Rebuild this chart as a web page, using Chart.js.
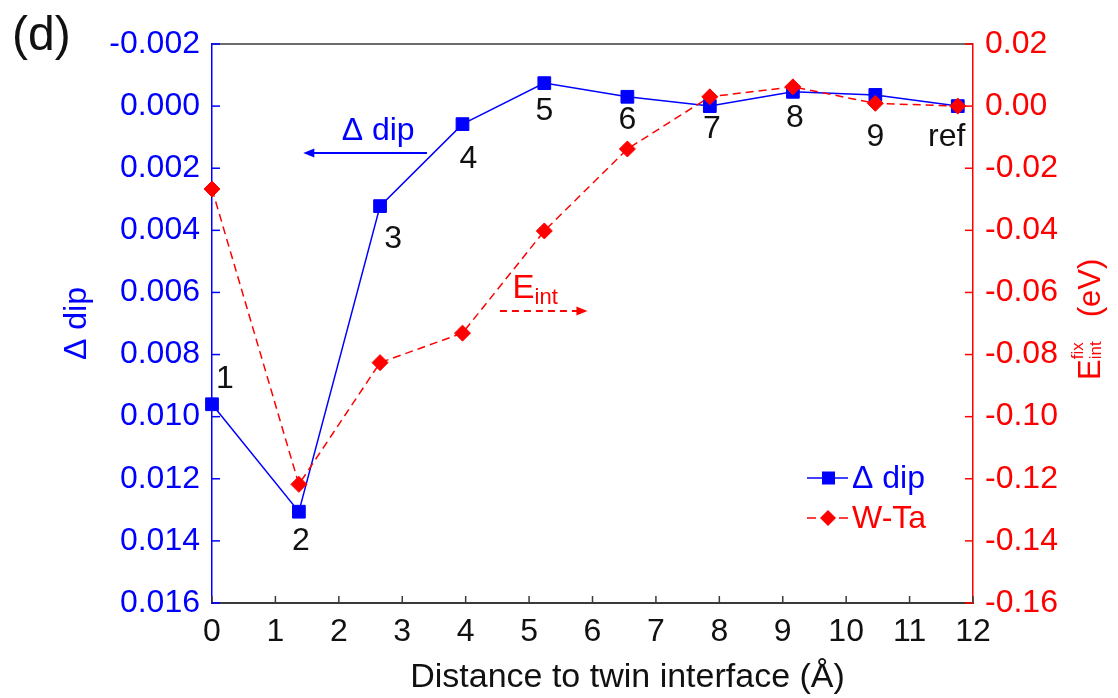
<!DOCTYPE html>
<html><head><meta charset="utf-8">
<script src="https://cdn.jsdelivr.net/npm/chart.js@4.4.0/dist/chart.umd.min.js"></script>
<style>html,body{margin:0;padding:0;background:#fff;}#wrap{width:1118px;height:698px;}</style>
</head><body><div id="wrap"><canvas id="c" width="1118" height="698"></canvas></div>
<script>
// ---- data ----
const distance = [0, 1.37, 2.65, 3.95, 5.24, 6.55, 7.85, 9.16, 10.46, 11.76];
const deltaDip = [0.0096, 0.01306, 0.00322, 0.00058, -0.00074, -0.0003, 0.0, -0.00046, -0.00036, 0.0];
const eIntWTa = [-0.0267, -0.1218, -0.0826, -0.0731, -0.0402, -0.0138, 0.003, 0.0062, 0.0009, 0.0];
const siteLabels = ['1', '2', '3', '4', '5', '6', '7', '8', '9', 'ref'];
const xTickValues = [0, 1, 2, 3, 4, 5, 6, 7, 8, 9, 10, 11, 12];
const leftTickValues = [-0.002, 0, 0.002, 0.004, 0.006, 0.008, 0.010, 0.012, 0.014, 0.016];
const rightTickValues = [0.02, 0, -0.02, -0.04, -0.06, -0.08, -0.10, -0.12, -0.14, -0.16];
const seriesNames = ['\u0394 dip', 'W-Ta'];

// label offsets (px) from each blue point
const labelOffsets = [[13,-25],[2,29],[13,33],[6,35],[0,28],[0,23],[2,23],[2,26],[0,42],[-11,31]];

const BLUE = '#0000ff', RED = '#ff0000', AXIS = '#3a3a3a';
const FONT = 'Arial, "Liberation Sans", Helvetica, sans-serif';

function drawArrow(ctx, x1, y1, x2, y2, color, dash) {
  ctx.save();
  ctx.strokeStyle = color; ctx.fillStyle = color; ctx.lineWidth = 2;
  ctx.setLineDash(dash || []);
  const dir = Math.sign(x2 - x1);
  ctx.beginPath(); ctx.moveTo(x1, y1); ctx.lineTo(x2 - dir * 8, y2); ctx.stroke();
  ctx.setLineDash([]);
  ctx.beginPath(); ctx.moveTo(x2, y2); ctx.lineTo(x2 - dir * 11, y2 - 4.5); ctx.lineTo(x2 - dir * 11, y2 + 4.5); ctx.closePath(); ctx.fill();
  ctx.restore();
}

const decor = {
  id: 'decor',
  afterDraw(chart) {
    const {ctx, chartArea: a, scales} = chart;
    const xs = scales.x, yl = scales.y, yr = scales.y1;
    ctx.save();
    // top frame
    ctx.strokeStyle = AXIS; ctx.lineWidth = 1.5;
    ctx.beginPath(); ctx.moveTo(a.left, a.top); ctx.lineTo(a.right, a.top); ctx.stroke();
    // inward ticks
    ctx.lineWidth = 1.5;
    ctx.strokeStyle = AXIS;
    xs.ticks.forEach(t => { const p = xs.getPixelForValue(t.value); ctx.beginPath(); ctx.moveTo(p, a.bottom); ctx.lineTo(p, a.bottom - 7); ctx.stroke(); });
    ctx.strokeStyle = BLUE;
    yl.ticks.forEach(t => { const p = yl.getPixelForValue(t.value); ctx.beginPath(); ctx.moveTo(a.left, p); ctx.lineTo(a.left + 8, p); ctx.stroke(); });
    ctx.strokeStyle = RED;
    yr.ticks.forEach(t => { const p = yr.getPixelForValue(t.value); ctx.beginPath(); ctx.moveTo(a.right, p); ctx.lineTo(a.right - 8, p); ctx.stroke(); });

    // site labels
    ctx.fillStyle = '#111'; ctx.font = `32px ${FONT}`; ctx.textAlign = 'center'; ctx.textBaseline = 'middle';
    siteLabels.forEach((s, i) => {
      const px = xs.getPixelForValue(distance[i]) + labelOffsets[i][0];
      const py = yl.getPixelForValue(deltaDip[i]) + labelOffsets[i][1];
      ctx.fillText(s, px, py);
    });

    // annotation: Delta dip arrow (left axis)
    const ay = yl.getPixelForValue(0.00151);
    drawArrow(ctx, xs.getPixelForValue(3.39), ay, xs.getPixelForValue(1.44), ay, BLUE, []);
    ctx.fillStyle = BLUE; ctx.font = `32px ${FONT}`; ctx.textAlign = 'center'; ctx.textBaseline = 'middle';
    ctx.fillText(seriesNames[0], xs.getPixelForValue(2.62), yl.getPixelForValue(0.0008));

    // annotation: E_int arrow (right axis)
    const ey = yr.getPixelForValue(-0.066);
    drawArrow(ctx, xs.getPixelForValue(4.54), ey, xs.getPixelForValue(5.92), ey, RED, [7, 5]);
    ctx.fillStyle = RED; ctx.textAlign = 'left'; ctx.textBaseline = 'alphabetic';
    const ex = xs.getPixelForValue(4.74), eb = yr.getPixelForValue(-0.0618);
    ctx.font = `33px ${FONT}`; ctx.fillText('E', ex, eb);
    const wE = ctx.measureText('E').width;
    ctx.font = `22px ${FONT}`; ctx.fillText('int', ex + wE, eb + 6);

    // right axis title (rotated, reading upward)
    ctx.save();
    ctx.translate(a.right + 127, a.top + 336);
    ctx.rotate(-Math.PI / 2);
    ctx.fillStyle = RED; ctx.textAlign = 'left'; ctx.textBaseline = 'alphabetic';
    ctx.font = `31px ${FONT}`; ctx.fillText('E', 0, 0);
    const wE2 = ctx.measureText('E').width;
    ctx.font = `17px ${FONT}`;
    ctx.fillText('int', wE2, 1);
    ctx.fillText('fix', wE2, -17);
    ctx.font = `31px ${FONT}`; ctx.fillText('(eV)', wE2 + 42, 0);
    ctx.restore();

    // x axis title
    ctx.fillStyle = '#111'; ctx.font = `34px ${FONT}`; ctx.textAlign = 'center'; ctx.textBaseline = 'alphabetic';
    ctx.fillText('Distance to twin interface (\u00C5)', (a.left + a.right) / 2 + 35, 687);

    // panel label
    ctx.font = `48px ${FONT}`; ctx.textAlign = 'left';
    ctx.fillText('(d)', 12, 50);

    // legend
    const ds = chart.data.datasets;
    const lx = a.right - 166;
    [[0, a.top + 434], [1, a.top + 474]].forEach(([i, y]) => {
      const d = ds[i];
      ctx.save();
      ctx.strokeStyle = d.borderColor; ctx.lineWidth = 1.5;
      if (i === 1) {
        ctx.beginPath(); ctx.moveTo(lx, y); ctx.lineTo(lx + 9, y); ctx.moveTo(lx + 32, y); ctx.lineTo(lx + 41, y); ctx.stroke();
      } else {
        ctx.beginPath(); ctx.moveTo(lx, y); ctx.lineTo(lx + 41, y); ctx.stroke();
      }
      ctx.fillStyle = d.pointBackgroundColor;
      if (i === 0) { ctx.fillRect(lx + 15, y - 6.5, 13, 13); }
      else { ctx.beginPath(); ctx.moveTo(lx + 21, y - 8); ctx.lineTo(lx + 29, y); ctx.lineTo(lx + 21, y + 8); ctx.lineTo(lx + 13, y); ctx.closePath(); ctx.fill(); }
      ctx.fillStyle = d.borderColor; ctx.font = `32px ${FONT}`; ctx.textAlign = 'left'; ctx.textBaseline = 'middle';
      ctx.fillText(d.label, lx + 45, y + 1);
      ctx.restore();
    });
    ctx.restore();
  }
};

const fmt = (v, n) => (Math.abs(v) < 1e-12 ? 0 : v).toFixed(n);

new Chart(document.getElementById('c'), {
  type: 'line',
  data: {
    datasets: [
      {
        label: seriesNames[0],
        data: distance.map((x, i) => ({x, y: deltaDip[i]})),
        yAxisID: 'y', order: 2,
        borderColor: BLUE, backgroundColor: BLUE, borderWidth: 1.5,
        pointStyle: 'rect', pointRadius: 9, pointBackgroundColor: BLUE, pointBorderColor: BLUE, pointBorderWidth: 1,
        tension: 0, clip: false
      },
      {
        label: seriesNames[1],
        data: distance.map((x, i) => ({x, y: eIntWTa[i]})),
        yAxisID: 'y1', order: 1,
        borderColor: RED, backgroundColor: RED, borderWidth: 1.5, borderDash: [8, 5],
        pointStyle: 'rectRot', pointRadius: 8, pointBackgroundColor: RED, pointBorderColor: RED, pointBorderWidth: 1,
        tension: 0, clip: false
      }
    ]
  },
  options: {
    responsive: false, animation: false, devicePixelRatio: 1,
    layout: {padding: {top: 44, left: 0, right: 0, bottom: 0}},
    plugins: {legend: {display: false}, tooltip: {enabled: false}},
    scales: {
      x: {
        type: 'linear', min: 0, max: 12,
        afterBuildTicks: s => { s.ticks = xTickValues.map(v => ({value: v})); },
        afterFit: s => { s.height = 95; },
        grid: {display: false, drawTicks: false},
        border: {display: true, color: AXIS, width: 2},
        ticks: {color: '#111', font: {family: FONT, size: 32}, padding: 10, maxRotation: 0, callback: v => String(v)}
      },
      y: {
        position: 'left', reverse: true, min: -0.002, max: 0.016,
        afterBuildTicks: s => { s.ticks = leftTickValues.map(v => ({value: v})); },
        afterFit: s => { s.width = 212; },
        grid: {display: false, drawTicks: false},
        border: {display: true, color: BLUE, width: 1.5},
        ticks: {color: BLUE, font: {family: FONT, size: 32}, padding: 12, callback: v => fmt(v, 3)},
        title: {display: true, text: seriesNames[0], color: BLUE, font: {family: FONT, size: 32}, padding: {top: 58, bottom: 0}}
      },
      y1: {
        position: 'right', min: -0.16, max: 0.02,
        afterBuildTicks: s => { s.ticks = rightTickValues.map(v => ({value: v})); },
        afterFit: s => { s.width = 145; },
        grid: {display: false, drawTicks: false},
        border: {display: true, color: RED, width: 1.5},
        ticks: {color: RED, font: {family: FONT, size: 32}, padding: 12, callback: v => fmt(v, 2)}
      }
    }
  },
  plugins: [decor]
});
</script>
</body></html>
